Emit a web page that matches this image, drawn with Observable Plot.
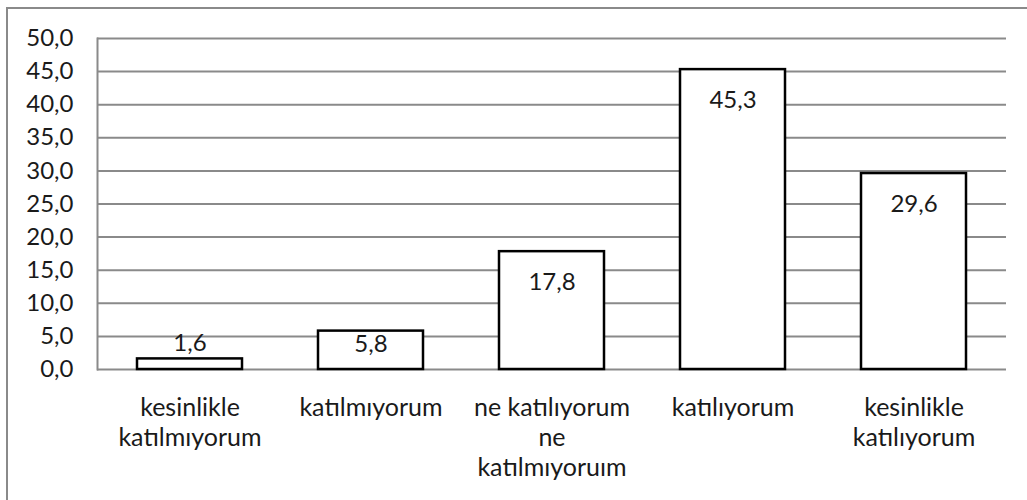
<!DOCTYPE html>
<html>
<head>
<meta charset="utf-8">
<script src="https://cdn.jsdelivr.net/npm/d3@7"></script>
<script src="https://cdn.jsdelivr.net/npm/@observablehq/plot@0.6"></script>
<style>
  html, body { margin: 0; padding: 0; background: #fff; }
  #wrap { position: relative; width: 1027px; height: 500px; overflow: hidden; }
  #frame { position: absolute; left: 6px; top: 7px; width: 1040px; height: 520px; border-left: 2px solid #8a8a8a; border-top: 2px solid #8a8a8a; box-sizing: border-box; }
  #chart { position: absolute; left: 0; top: 0; }
</style>
</head>
<body>
<div id="wrap"><div id="frame"></div><div id="chart"></div></div>
<script>
const categories = ["kesinlikle katılmıyorum", "katılmıyorum", "ne katılıyorum ne katılmıyoruım", "katılıyorum", "kesinlikle katılıyorum"];
const categoryLabels = ["kesinlikle\nkatılmıyorum", "katılmıyorum", "ne katılıyorum\nne\nkatılmıyoruım", "katılıyorum", "kesinlikle\nkatılıyorum"];
const values = [1.6, 5.8, 17.8, 45.3, 29.6];
const yTicks = [0, 5, 10, 15, 20, 25, 30, 35, 40, 45, 50];

const data = categories.map((c, i) => ({category: c, value: values[i]}));
const labelOf = new Map(categories.map((c, i) => [c, categoryLabels[i]]));
const fmt = v => v.toFixed(1).replace(".", ",");

const H = 500, mt = 38, mb = 131;
const pxPerUnit = (H - mt - mb) / 50;
const labelDy = v => {
  const h = v * pxPerUnit;
  if (h < 20) return -16;
  return Math.min(31, h - 25);
};

const FS = 24, FSX = 25;
const font = "Lato, 'Open Sans', sans-serif";
const chart = Plot.plot({
  width: 1027,
  height: H,
  marginLeft: 97,
  marginRight: 21,
  marginTop: mt,
  marginBottom: mb,
  style: {fontFamily: font, fontSize: FS + "px", color: "#1a1a1a", background: "transparent", overflow: "visible"},
  x: {domain: categories, paddingInner: 0.42, paddingOuter: 0.21, label: null},
  y: {domain: [0, 50], label: null},
  marks: [
    Plot.gridY(yTicks, {stroke: "#8a8a8a", strokeOpacity: 1, strokeWidth: 2}),
    Plot.frame({anchor: "left", stroke: "#8a8a8a", strokeWidth: 2}),
    Plot.axisY({ticks: yTicks, tickSize: 0, tickPadding: 24, tickFormat: fmt, fontSize: FS, fill: "#1a1a1a", label: null}),
    Plot.axisX({tickSize: 0, tickPadding: 25, tickFormat: d => labelOf.get(d), fontSize: FSX, lineHeight: 1.2, fill: "#1a1a1a", label: null}),
    Plot.barY(data, {x: "category", y: "value", fill: "white", stroke: "black", strokeWidth: 2.5}),
    ...data.map(d => Plot.text([d], {x: "category", y: "value", text: e => fmt(e.value), dy: labelDy(d.value), fontSize: FS, fill: "#1a1a1a"}))
  ]
});
document.getElementById("chart").appendChild(chart);
</script>
</body>
</html>
